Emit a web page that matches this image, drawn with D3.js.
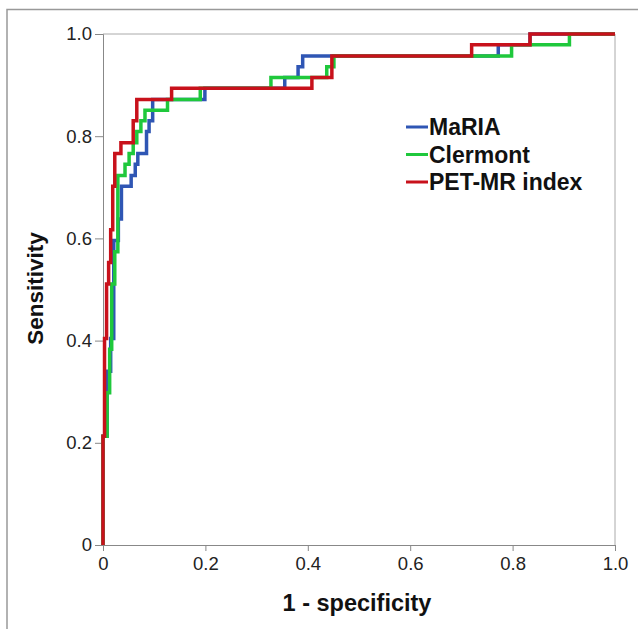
<!DOCTYPE html>
<html>
<head>
<meta charset="utf-8">
<script src="https://cdn.jsdelivr.net/npm/d3@7"></script>
<style>
  body { margin: 0; background: #fff; }
  svg { display: block; font-family: "Liberation Sans", Arial, sans-serif; }
</style>
</head>
<body>
<svg id="chart" width="638" height="629"></svg>
<script>
// ROC steps, [1 - specificity, sensitivity]
const mariaPoints = [
  [0, 0], [0, 0.213], [0.008, 0.213], [0.008, 0.340], [0.015, 0.340], [0.015, 0.404],
  [0.021, 0.404], [0.021, 0.596], [0.030, 0.596], [0.030, 0.638], [0.036, 0.638],
  [0.036, 0.702], [0.055, 0.702], [0.055, 0.723], [0.063, 0.723], [0.063, 0.745],
  [0.068, 0.745], [0.068, 0.766], [0.085, 0.766], [0.085, 0.809], [0.090, 0.809],
  [0.090, 0.830], [0.097, 0.830], [0.097, 0.872], [0.199, 0.872], [0.199, 0.894],
  [0.355, 0.894], [0.355, 0.915], [0.381, 0.915], [0.381, 0.936], [0.390, 0.936],
  [0.390, 0.957], [0.772, 0.957], [0.772, 0.979], [0.834, 0.979], [0.834, 1], [1, 1]
];
const clermontPoints = [
  [0, 0], [0, 0.213], [0.008, 0.213], [0.008, 0.298], [0.013, 0.298], [0.013, 0.383],
  [0.017, 0.383], [0.017, 0.511], [0.023, 0.511], [0.023, 0.574], [0.029, 0.574],
  [0.029, 0.723], [0.043, 0.723], [0.043, 0.745], [0.051, 0.745], [0.051, 0.766],
  [0.059, 0.766], [0.059, 0.787], [0.066, 0.787], [0.066, 0.809], [0.074, 0.809],
  [0.074, 0.830], [0.082, 0.830], [0.082, 0.851], [0.126, 0.851], [0.126, 0.872],
  [0.190, 0.872], [0.190, 0.894], [0.328, 0.894], [0.328, 0.915], [0.437, 0.915],
  [0.437, 0.936], [0.451, 0.936], [0.451, 0.957], [0.798, 0.957], [0.798, 0.979],
  [0.911, 0.979], [0.911, 1], [1, 1]
];
const petmrPoints = [
  [0, 0], [0, 0.213], [0.003, 0.213], [0.003, 0.404], [0.007, 0.404], [0.007, 0.511],
  [0.011, 0.511], [0.011, 0.553], [0.015, 0.553], [0.015, 0.617], [0.019, 0.617],
  [0.019, 0.702], [0.023, 0.702], [0.023, 0.766], [0.035, 0.766], [0.035, 0.787],
  [0.059, 0.787], [0.059, 0.830], [0.066, 0.830], [0.066, 0.872], [0.134, 0.872],
  [0.134, 0.894], [0.408, 0.894], [0.408, 0.915], [0.447, 0.915], [0.447, 0.957],
  [0.720, 0.957], [0.720, 0.979], [0.834, 0.979], [0.834, 1], [1, 1]
];
const seriesNames = ['MaRIA', 'Clermont', 'PET-MR index'];
const seriesColors = ['#2f56b4', '#1fc83c', '#c8111b'];
const tickValues = [0, 0.2, 0.4, 0.6, 0.8, 1.0];
const tickLabels = ['0', '0.2', '0.4', '0.6', '0.8', '1.0'];

const svg = d3.select('#chart');
const margin = { left: 103, top: 34, right: 23, bottom: 84 };
const width = 638 - margin.left - margin.right;
const height = 629 - margin.top - margin.bottom;

// outer frame (only left and top visible)
svg.append('path')
  .attr('d', 'M7,629 V9.5 H638')
  .attr('fill', 'none')
  .attr('stroke', '#999')
  .attr('stroke-width', 1.5);

const g = svg.append('g').attr('transform', `translate(${margin.left},${margin.top})`);

const x = d3.scaleLinear().domain([0, 1]).range([0, width]);
const y = d3.scaleLinear().domain([0, 1]).range([height, 0]);

// plot frame top/right
g.append('path')
  .attr('d', `M0,0 H${width} V${height}`)
  .attr('fill', 'none')
  .attr('stroke', '#aaa')
  .attr('stroke-width', 1);

const xAxis = g.append('g')
  .attr('transform', `translate(0,${height})`)
  .call(d3.axisBottom(x).tickValues(tickValues).tickFormat((d, i) => tickLabels[i]).tickSizeOuter(0).tickSize(6).tickPadding(6));
const yAxis = g.append('g')
  .call(d3.axisLeft(y).tickValues(tickValues).tickFormat((d, i) => tickLabels[i]).tickSizeOuter(0).tickSize(8).tickPadding(3));

[xAxis, yAxis].forEach(ax => {
  ax.select('.domain').attr('stroke', '#888');
  ax.selectAll('.tick line').attr('stroke', '#888');
  ax.selectAll('.tick text').attr('fill', '#222').style('font-size', '18.5px');
});

const line = d3.line().x(d => x(d[0])).y(d => y(d[1]));
[mariaPoints, clermontPoints, petmrPoints].forEach((pts, i) => {
  g.append('path')
    .datum(pts)
    .attr('d', line)
    .attr('fill', 'none')
    .attr('stroke', seriesColors[i])
    .attr('stroke-width', 3.5)
    .attr('stroke-linejoin', 'miter');
});

// legend
const legend = svg.append('g').attr('transform', 'translate(406,127)');
seriesNames.forEach((name, i) => {
  const row = legend.append('g').attr('transform', `translate(0,${i * 27.5})`);
  row.append('line')
    .attr('x1', 0).attr('x2', 22).attr('y1', 0).attr('y2', 0)
    .attr('stroke', seriesColors[i]).attr('stroke-width', 3);
  row.append('text')
    .attr('x', 23).attr('y', 8)
    .style('font-size', '23px').style('font-weight', 'bold')
    .attr('fill', '#111')
    .text(name);
});

// axis titles
svg.append('text')
  .attr('x', margin.left + width / 2 - 2).attr('y', 611)
  .attr('text-anchor', 'middle')
  .style('font-size', '23.5px').style('font-weight', 'bold').attr('fill', '#111')
  .text('1 - specificity');
svg.append('text')
  .attr('transform', `translate(43,${margin.top + height / 2 - 1}) rotate(-90)`)
  .attr('text-anchor', 'middle')
  .style('font-size', '22.5px').style('font-weight', 'bold').attr('fill', '#111')
  .text('Sensitivity');
</script>
</body>
</html>
